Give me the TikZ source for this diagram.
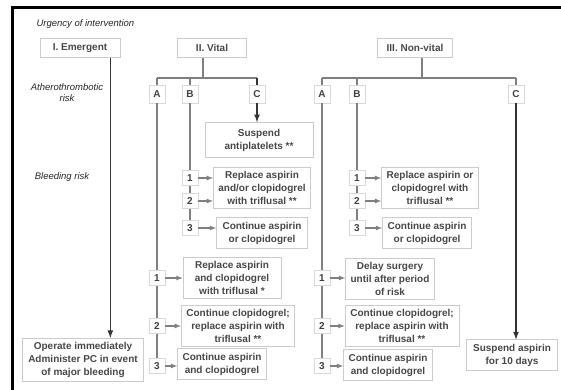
\documentclass[tikz,border=0pt]{standalone}
\usepackage{fontspec}
\setmainfont{Liberation Sans}
\usetikzlibrary{positioning,calc,arrows}

\begin{document}
\begin{tikzpicture}[x=1pt,y=-1pt,>=latex,
    box/.style={draw=gray!40,line width=0.7pt,align=center,text=black!72,font=\fontsize{10}{13}\selectfont\bfseries,inner xsep=5pt,inner ysep=4pt},
    head/.style={box,minimum height=19pt},
    num/.style={draw=gray!30,line width=0.5pt,text=black!75,font=\fontsize{10}{12}\selectfont\bfseries,minimum width=16pt,minimum height=15pt,inner sep=1pt},
    side/.style={font=\fontsize{9.5}{11}\selectfont\itshape,text=black!85,align=center},
    link/.style={draw=black!50,line width=1.2pt},
    main/.style={draw=black!80,line width=1.6pt}]
    \useasboundingbox (0,0) rectangle (561,390);
    % frame
    \draw[line width=3pt] (561,8) -- (12,8) -- (12,390);

    % side labels
    \node[side,anchor=west] (urg) at (33,24) {Urgency of intervention};
    \node[side] (ath) at (67,93) {Atherothrombotic\\risk};
    \node[side] (bleed) at (62,177) {Bleeding risk};

    % headers
    \node[head,minimum width=80pt] (emerg) at (80,48) {I. Emergent};
    \node[head,minimum width=69pt] (vital) at (212,48) {II. Vital};
    \node[head,minimum width=75pt] (nonvit) at (415,48) {III. Non-vital};

    % Emergent
    \node[box,minimum width=121pt] (operate) at (83,360) {Operate immediately\\Administer PC in event\\of major bleeding};
    \coordinate (eline) at ($(emerg.south east)+(-10,0)$);
    \draw[main,->] (eline) -- (eline |- operate.north);

    % Vital
    \coordinate (vjoin) at (203,78);
    \node[num,minimum height=18pt] (vA) at (157,94) {A};
    \node[num,minimum height=18pt] (vB) at (190,94) {B};
    \node[num,minimum height=18pt] (vC) at (257,94) {C};
    \draw[link] (vjoin |- vital.south) -- (vjoin);
    \draw[link] (vA.north |- vjoin) -- (vC.north |- vjoin);
    \foreach \n in {vA,vB} \draw[link] (\n.north |- vjoin) -- (\n.north);
    \draw[main] (vC.north |- vjoin) -- (vC.north);

    \node[box,minimum width=108pt,minimum height=35pt] (suspend) at (259,140) {Suspend\\antiplatelets **};
    \draw[main,->] (vC) -- (vC |- suspend.north);

    \node[box,minimum width=97pt] (replB) at (262,188) {Replace aspirin\\and/or clopidogrel\\with triflusal **};
    \node[box,minimum width=91pt] (contB) at (262,233) {Continue aspirin\\or clopidogrel};
    \node[box,minimum width=98pt] (replA) at (232,278) {Replace aspirin\\and clopidogrel\\with triflusal *};
    \node[box,minimum width=112pt] (contclA) at (238,326) {Continue clopidogrel;\\replace aspirin with\\triflusal **};
    \node[box,minimum width=85pt] (contA) at (222,364) {Continue aspirin\\and clopidogrel};

    % Non-vital
    \coordinate (njoin) at (422,78);
    \node[num,minimum height=18pt] (nA) at (322,94) {A};
    \node[num,minimum height=18pt] (nB) at (357,94) {B};
    \node[num,minimum height=18pt] (nC) at (516,94) {C};
    \draw[link] (njoin |- nonvit.south) -- (njoin);
    \draw[link] (nA.north |- njoin) -- (nC.north |- njoin);
    \foreach \n in {nA,nB,nC} \draw[link] (\n.north |- njoin) -- (\n.north);

    \node[box,minimum width=94pt] (replNB) at (430,188) {Replace aspirin or\\clopidogrel with\\triflusal **};
    \node[box,minimum width=87pt] (contNB) at (427,233) {Continue aspirin\\or clopidogrel};
    \node[box,minimum width=88pt] (delay) at (390,279) {Delay surgery\\until after period\\of risk};
    \node[box,minimum width=114pt] (contclN) at (402,326) {Continue clopidogrel;\\replace aspirin with\\triflusal **};
    \node[box,minimum width=87pt] (contN) at (388,365) {Continue aspirin\\and clopidogrel};
    \node[box,minimum width=91pt] (susp10) at (512,355) {Suspend aspirin\\for 10 days};
    \draw[main,->] (nC) -- (nC |- susp10.north);

    % numbered options
    \foreach \n/\y in {1/178,2/201,3/228} {
        \node[num] (vB\n) at (190,\y) {\n};
        \node[num] (nB\n) at (357,\y) {\n};
    }
    \foreach \n/\y in {1/278,2/326,3/366} {
        \node[num] (vA\n) at (157,\y) {\n};
        \node[num] (nA\n) at (322,\y) {\n};
    }
    \foreach \c in {vA,vB,nA,nB} \draw[link] (\c) -- (\c1) -- (\c2) -- (\c3);

    \foreach \n in {1,2} {
        \draw[link,->] (vB\n) -- (vB\n -| replB.west);
        \draw[link,->] (nB\n) -- (nB\n -| replNB.west);
    }
    \draw[link,->] (vB3) -- (vB3 -| contB.west);
    \draw[link,->] (nB3) -- (nB3 -| contNB.west);
    \draw[link,->] (vA1) -- (vA1 -| replA.west);
    \draw[link,->] (vA2) -- (vA2 -| contclA.west);
    \draw[link,->] (vA3) -- (vA3 -| contA.west);
    \draw[link,->] (nA1) -- (nA1 -| delay.west);
    \draw[link,->] (nA2) -- (nA2 -| contclN.west);
    \draw[link,->] (nA3) -- (nA3 -| contN.west);
\end{tikzpicture}
\end{document}
